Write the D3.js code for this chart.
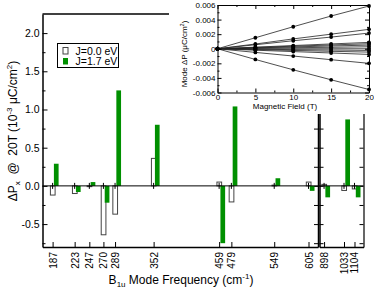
<!DOCTYPE html>
<html>
<head>
<meta charset="utf-8">
<script src="https://cdn.jsdelivr.net/npm/d3@7"></script>
<style>
body{margin:0;background:#fff}
svg{display:block;font-family:"Liberation Sans",Arial,sans-serif}
</style>
</head>
<body>
<svg id="chart" width="374" height="290"></svg>
<script>
// B1u mode frequencies (cm^-1), left and right of the axis break
const modesLeft = [187,223,247,270,289,352,459,479,549,605];
const modesRight = [898,1033,1104];
const modes = modesLeft.concat(modesRight);
// delta Px at 20T, 10^-3 uC/cm^2
const dpJ00 = [-0.12,-0.10,-0.01,-0.64,-0.37,0.36,0.05,-0.21,0.01,0.05,0.02,-0.06,-0.04];
const dpJ17 = [0.29,-0.08,0.05,-0.22,1.25,0.80,-0.75,1.04,0.10,-0.065,-0.15,0.87,-0.15];
const yMajor = [-0.5,0,0.5,1,1.5,2];
const yMinor = [-0.75,-0.25,0.25,0.75,1.25,1.75];
const legendLabels = ["J=0.0 eV","J=1.7 eV"];

// inset: mode dP vs magnetic field
const fields = [0,5,10,15,20];
const modeLines = [
  [0,0.00151,0.00302,0.00449,0.00586],
  [0,0.00065,0.00135,0.00200,0.00266],
  [0,0.00055,0.00110,0.00160,0.00215],
  [0,0.00022,0.00044,0.00066,0.00087],
  [0,0.00017,0.00035,0.00052,0.00069],
  [0,0.00012,0.00025,0.00038,0.00050],
  [0,0.00007,0.00014,0.00020,0.00027],
  [0,0.00000,0.00000,0.00000,0.00000],
  [0,-0.00006,-0.00012,-0.00017,-0.00023],
  [0,-0.00012,-0.00023,-0.00035,-0.00046],
  [0,-0.00020,-0.00039,-0.00058,-0.00078],
  [0,-0.00050,-0.00100,-0.00150,-0.00200],
  [0,-0.00147,-0.00289,-0.00426,-0.00559]
];
const insetYTicks = [-0.006,-0.004,-0.002,0,0.002,0.004,0.006];
const insetYMinor = [-0.005,-0.003,-0.001,0.001,0.003,0.005];
const insetXTicks = [0,5,10,15,20];
const insetXMinor = [2.5,7.5,12.5,17.5];

const green = "#009000";
const svg = d3.select("#chart");

const y = d3.scaleLinear().domain([-0.8,2.25]).range([247,14]);
const xL = d3.scaleLinear().domain([170.5,620.5]).range([42.5,318]);
const xR = d3.scaleLinear().domain([867,1165]).range([319.5,363.5]);
const xOf = f => f < 700 ? xL(f) : xR(f);

function styleAxis(g, w){
  g.attr("font-family",null).attr("font-size",null);
  g.select(".domain").attr("stroke","#000").attr("stroke-width",w);
  g.selectAll(".tick line").attr("stroke","#000").attr("stroke-width",1);
}

// ---- main frame
const yAxis = svg.append("g").attr("transform",`translate(${xL.range()[0]},0)`)
  .call(d3.axisLeft(y).tickValues(yMajor).tickSize(-5).tickSizeOuter(0).tickPadding(3).tickFormat(d=>d.toFixed(1)));
styleAxis(yAxis,1.5);
yAxis.selectAll("text").attr("font-size",10.5).attr("fill","#000");
svg.append("g").attr("transform",`translate(${xL.range()[0]},0)`)
  .call(d3.axisLeft(y).tickValues(yMinor).tickSize(-3).tickSizeOuter(0).tickFormat(""))
  .call(g=>styleAxis(g,0));

[[xL,modesLeft],[xR,modesRight]].forEach(([sc,vals])=>{
  const g = svg.append("g").attr("transform",`translate(0,${y.range()[0]})`)
    .call(d3.axisBottom(sc).tickValues(vals).tickSize(-5).tickSizeOuter(0).tickFormat(String));
  styleAxis(g,1.5);
  g.selectAll("text").attr("font-size",10).attr("fill","#000")
    .attr("transform","rotate(-90)").attr("text-anchor","end")
    .attr("x",-5).attr("y",0).attr("dy","0.35em");
});

// break and right axes
[[xL.range()[1],"right",1.5],[xR.range()[0],"left",1.5],[xR.range()[1],"right",1.2]].forEach(([px,side,w])=>{
  const ax = side==="right" ? d3.axisRight(y) : d3.axisLeft(y);
  svg.append("g").attr("transform",`translate(${px},0)`)
    .call(ax.tickValues(yMajor.concat(yMinor)).tickSize(-4).tickSizeOuter(0).tickFormat(""))
    .call(g=>styleAxis(g,w));
});

svg.append("line")
  .attr("x1",xL.range()[0]).attr("x2",xR.range()[1])
  .attr("y1",y.range()[1]).attr("y2",y.range()[1])
  .attr("stroke","#000").attr("stroke-width",1.5);

// white area behind the inset
svg.append("rect").attr("x",169).attr("y",0).attr("width",205).attr("height",114).attr("fill","#fff");

// ---- bars
const bw = 4.7;
svg.append("g").selectAll("rect").data(modes).join("rect")
  .attr("x",(m)=>xOf(m)-2.2)
  .attr("y",(m,i)=>y(Math.max(dpJ00[i],0)))
  .attr("width",bw)
  .attr("height",(m,i)=>Math.abs(y(dpJ00[i])-y(0)))
  .attr("fill","#fff").attr("stroke","#444").attr("stroke-width",1);
svg.append("g").selectAll("rect").data(modes).join("rect")
  .attr("x",(m)=>xOf(m)+1.3)
  .attr("y",(m,i)=>y(Math.max(dpJ17[i],0)))
  .attr("width",bw)
  .attr("height",(m,i)=>Math.abs(y(dpJ17[i])-y(0)))
  .attr("fill",green);

// zero axis with ticks
svg.append("line")
  .attr("x1",xL.range()[0]).attr("x2",xR.range()[1])
  .attr("y1",y(0)).attr("y2",y(0))
  .attr("stroke","#000").attr("stroke-width",1);
svg.append("g").selectAll("line").data(modes).join("line")
  .attr("x1",m=>xOf(m)).attr("x2",m=>xOf(m))
  .attr("y1",y(0)-3).attr("y2",y(0)+3)
  .attr("stroke","#000");

// ---- legend
const leg = svg.append("g").attr("transform","translate(57.5,43.5)");
leg.append("rect").attr("width",61).attr("height",24).attr("fill","#fff").attr("stroke","#000");
legendLabels.forEach((t,i)=>{
  leg.append("rect").attr("x",5.5).attr("y",4+i*10.5).attr("width",5).attr("height",6.5)
    .attr("fill",i?green:"#fff").attr("stroke",i?"none":"#444");
  leg.append("text").attr("x",18).attr("y",11+i*10.5).attr("font-size",10.5).text(t);
});

// ---- axis titles
const yt = svg.append("text").attr("transform","translate(17,131) rotate(-90)")
  .attr("text-anchor","middle").attr("font-size",12).style("white-space","pre");
yt.append("tspan").text("\u0394P");
yt.append("tspan").attr("font-size",8).attr("dy",3).text("x");
yt.append("tspan").attr("dy",-3).text("  @  20T (10");
yt.append("tspan").attr("font-size",8).attr("dy",-5).text("-3");
yt.append("tspan").attr("dy",5).text(" \u03bcC/cm");
yt.append("tspan").attr("font-size",8).attr("dy",-5).text("2");
yt.append("tspan").attr("dy",5).text(")");

const xt = svg.append("text").attr("x",181).attr("y",284)
  .attr("text-anchor","middle").attr("font-size",12);
xt.append("tspan").text("B");
xt.append("tspan").attr("font-size",8).attr("dy",3).text("1u");
xt.append("tspan").attr("dy",-3).text(" Mode Frequency (cm");
xt.append("tspan").attr("font-size",8).attr("dy",-5).text("-1");
xt.append("tspan").attr("dy",5).text(")");

// ---- inset
const ix = d3.scaleLinear().domain([0,20]).range([217.5,369]);
const iy = d3.scaleLinear().domain([-0.006,0.006]).range([92.5,5]);
const inset = svg.append("g");

const line = d3.line().x((d,i)=>ix(fields[i])).y(d=>iy(d));
inset.append("g").selectAll("path").data(modeLines).join("path")
  .attr("d",line).attr("fill","none").attr("stroke","#222").attr("stroke-width",0.8);
inset.append("g").selectAll("g").data(modeLines).join("g")
  .selectAll("circle").data(d=>d).join("circle")
  .attr("cx",(d,i)=>ix(fields[i])).attr("cy",d=>iy(d)).attr("r",1.9).attr("fill","#000");

const iyAxis = inset.append("g").attr("transform",`translate(${ix.range()[0]},0)`)
  .call(d3.axisLeft(iy).tickValues(insetYTicks).tickSize(-4).tickSizeOuter(0).tickPadding(2)
    .tickFormat(d=>d===0?"0":d.toFixed(3)));
styleAxis(iyAxis,1);
iyAxis.selectAll("text").attr("font-size",8).attr("fill","#000");
const ixAxis = inset.append("g").attr("transform",`translate(0,${iy.range()[0]})`)
  .call(d3.axisBottom(ix).tickValues(insetXTicks).tickSize(-4).tickSizeOuter(0).tickPadding(2).tickFormat(String));
styleAxis(ixAxis,1);
ixAxis.selectAll("text").attr("font-size",8).attr("fill","#000");
inset.append("g").attr("transform",`translate(${ix.range()[1]},0)`)
  .call(d3.axisRight(iy).tickValues(insetYTicks).tickSize(-4).tickSizeOuter(0).tickFormat(""))
  .call(g=>styleAxis(g,1));
inset.append("g").attr("transform",`translate(0,${iy.range()[1]})`)
  .call(d3.axisTop(ix).tickValues(insetXTicks).tickSize(-4).tickSizeOuter(0).tickFormat(""))
  .call(g=>styleAxis(g,1));
// minor ticks on all four sides
[[d3.axisLeft,ix.range()[0]],[d3.axisRight,ix.range()[1]]].forEach(([a,px])=>{
  inset.append("g").attr("transform",`translate(${px},0)`)
    .call(a(iy).tickValues(insetYMinor).tickSize(-2).tickSizeOuter(0).tickFormat(""))
    .call(g=>styleAxis(g,0));
});
[[d3.axisBottom,iy.range()[0]],[d3.axisTop,iy.range()[1]]].forEach(([a,py])=>{
  inset.append("g").attr("transform",`translate(0,${py})`)
    .call(a(ix).tickValues(insetXMinor).tickSize(-2).tickSizeOuter(0).tickFormat(""))
    .call(g=>styleAxis(g,0));
});

const iyt = inset.append("text").attr("transform","translate(187,54) rotate(-90)")
  .attr("text-anchor","middle").attr("font-size",8);
iyt.append("tspan").text("Mode \u0394P (\u03bcC/cm");
iyt.append("tspan").attr("font-size",5.5).attr("dy",-3).text("2");
iyt.append("tspan").attr("dy",3).text(")");
inset.append("text").attr("x",285).attr("y",109).attr("text-anchor","middle")
  .attr("font-size",8).text("Magnetic Field (T)");
</script>
</body>
</html>
